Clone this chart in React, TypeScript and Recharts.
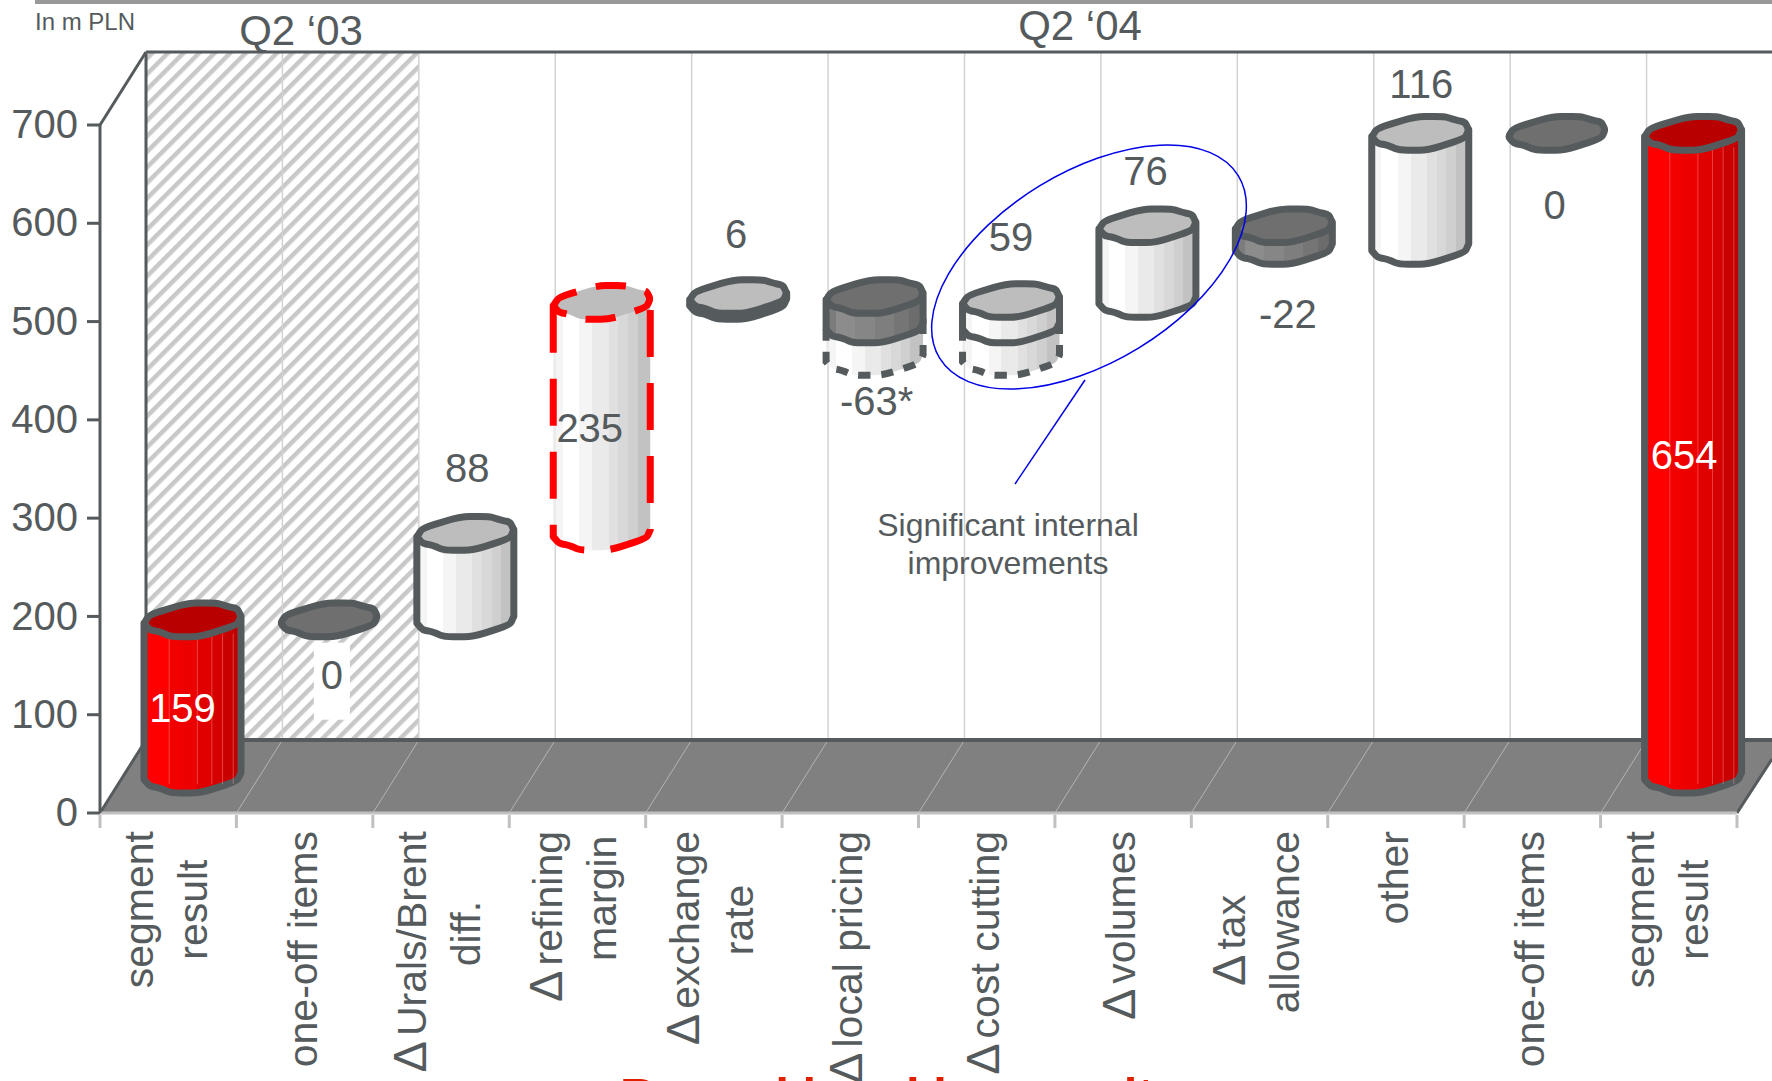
import React from 'react';
import { Bar, ComposedChart, Customized, XAxis, YAxis } from 'recharts';

// Waterfall values, in m PLN
const categories = ['segment result', 'one-off items', 'Urals/Brent diff.', 'refining margin', 'exchange rate', 'local pricing', 'cost cutting', 'volumes', 'tax allowance', 'other', 'one-off items', 'segment result'];
const tickLines = [
  ['segment', 'result'],
  ['one-off items'],
  ['Δ Urals/Brent', 'diff.'],
  ['Δ refining', 'margin'],
  ['Δ exchange', 'rate'],
  ['Δ local pricing'],
  ['Δ cost cutting'],
  ['Δ volumes'],
  ['Δ tax', 'allowance'],
  ['other'],
  ['one-off items'],
  ['segment', 'result'],
];
const deltas = [159, 0, 88, 235, 6, -63, 59, 76, -22, 116, 0, 654];
const valueLabels = ['159', '0', '88', '235', '6', '-63*', '59', '76', '-22', '116', '0', '654'];
// lower part of these two steps is only outlined with a dashed line
const dashedParts = [0, 0, 0, 0, 0, 33, 33, 0, 0, 0, 0, 0];
const yTicks = [0, 100, 200, 300, 400, 500, 600, 700];

const totalIndexes = [0, 11];
const highlightedIndex = 3;

// running total of the waterfall -> lower edge of each step
let running = 0;
const data = categories.map((name, i) => {
  const isTotal = totalIndexes.includes(i);
  const start = isTotal ? 0 : running;
  const end = isTotal ? deltas[i] : running + deltas[i];
  running = end;
  const low = Math.min(start, end);
  return {
    name,
    base: low,
    dashed: dashedParts[i],
    solid: Math.abs(deltas[i]) - dashedParts[i],
  };
});

const WIDTH = 1772;
const HEIGHT = 1081;
const LEFT = 100;
const RIGHT = 1737;
const TOP = 125;
const BOTTOM = 813;
const STEP = (RIGHT - LEFT) / categories.length;
// the wall sits behind the front axis, columns stand half way in
const WALL_DX = 46;
const WALL_DY = 73;
const COLUMN_DX = 24;
const COLUMN_DY = 37;
const HALF_W = 48.5;
const HALF_H = 17;
const OUTLINE = 7;

const DARK = '#555b5d';
const FONT = '"Liberation Sans", Arial, sans-serif';

// outline of the column cap, normalised
const ring: [number, number][] = [
  [-1, 0.2], [-0.88, -0.3], [-0.1, -0.98], [0.5, -0.98], [0.75, -0.76], [0.92, -0.66],
  [1, -0.2], [0.92, 0.3], [0.17, 1], [-0.44, 1], [-0.68, 0.7], [-0.88, 0.6],
];

const place = (p: [number, number], cx: number, cy: number): [number, number] =>
  [cx + p[0] * HALF_W, cy + p[1] * HALF_H];

// softened corner between its two neighbours
const corner = (a: number[], v: number[], b: number[], t = 0.32) => {
  const p1 = [v[0] + (a[0] - v[0]) * t, v[1] + (a[1] - v[1]) * t];
  const p2 = [v[0] + (b[0] - v[0]) * t, v[1] + (b[1] - v[1]) * t];
  return `L${p1[0]} ${p1[1]} Q${v[0]} ${v[1]} ${p2[0]} ${p2[1]}`;
};

const capPath = (cx: number, cy: number) => {
  const pts = ring.map(p => place(p, cx, cy));
  const n = pts.length;
  const segs = pts.map((v, i) => corner(pts[(i - 1 + n) % n], v, pts[(i + 1) % n]));
  return 'M' + segs.join(' ').slice(1) + ' Z';
};

const bodyPath = (cx: number, top: number, h: number) => {
  const lower = [ring[0], ring[11], ring[10], ring[9], ring[8], ring[7], ring[6]].map(p => place(p, cx, top + h));
  const start = place(ring[0], cx, top);
  const end = place(ring[6], cx, top);
  const inner = lower.slice(1, -1).map((v, i) => corner(lower[i], v, lower[i + 2])).join(' ');
  return `M${start[0]} ${start[1]} L${lower[0][0]} ${lower[0][1]} ${inner} L${lower[6][0]} ${lower[6][1]} L${end[0]} ${end[1]} Z`;
};

const bandStops = (id: string, stops: [number, string][]) => (
  <linearGradient id={id} x1="0" y1="0" x2="1" y2="0">
    {stops.flatMap(([end, color], i) => [
      <stop key={`${i}a`} offset={i === 0 ? 0 : stops[i - 1][0]} stopColor={color} />,
      <stop key={`${i}b`} offset={end} stopColor={color} />,
    ])}
  </linearGradient>
);

// offset of each value label from the top centre of its column
const labelOffsets: [number, number][] = [
  [-10, 88], [3, 55], [2, -65], [-12, 126], [-2, -62], [2, 105],
  [0, -63], [-2, -55], [4, 88], [1, -49], [-2, 72], [-9, 322],
];

// callout round the cost cutting and volumes steps
const Callout = () => (
  <g>
    <ellipse cx={1089} cy={267} rx={175} ry={95} transform="rotate(-31.4 1089 267)" fill="none" stroke="#0000e6" strokeWidth={1.5} />
    <line x1={1085} y1={380} x2={1015} y2={484} stroke="#0000e6" strokeWidth={1.5} />
    <text x={1008} y={536} textAnchor="middle" fontFamily={FONT} fontSize={32} fill={DARK}>Significant internal</text>
    <text x={1008} y={574} textAnchor="middle" fontFamily={FONT} fontSize={32} fill={DARK}>improvements</text>
  </g>
);

const DashedPart = (props: any) => {
  const { x, y, width, height } = props;
  if (!height) return null;
  const cx = x + width / 2 + COLUMN_DX;
  return (
    <path
      d={bodyPath(cx, y - COLUMN_DY, height)}
      fill="url(#bodyWhite)"
      stroke={DARK}
      strokeWidth={OUTLINE}
      strokeDasharray="12 11"
      strokeDashoffset={height + 60}
    />
  );
};

const Column = (props: any) => {
  const { x, y, width, height, index } = props;
  const cx = x + width / 2 + COLUMN_DX;
  const top = y - COLUMN_DY;
  const delta = deltas[index];
  const isTotal = totalIndexes.includes(index);
  const isHighlighted = index === highlightedIndex;
  const isDown = delta <= 0;
  const stroke = isHighlighted ? '#ff0000' : DARK;
  const dash = isHighlighted ? '47 26' : undefined;
  const bodyFill = isTotal ? 'url(#bodyRed)' : isDown ? 'url(#bodyDark)' : 'url(#bodyWhite)';
  const capFill = isTotal ? '#b90000' : isDown ? '#6f6f6f' : '#bdbdbd';
  const [dx, dy] = labelOffsets[index];
  return (
    <g>
      {height > 0 && (
        <path d={bodyPath(cx, top, height)} fill={bodyFill} stroke={stroke} strokeWidth={OUTLINE} strokeDasharray={dash} strokeLinejoin="round" />
      )}
      {isTotal && [0.26, 0.55, 0.7, 0.81, 0.92].map(f => (
        <line
          key={f}
          x1={cx - HALF_W + 2 * HALF_W * f}
          x2={cx - HALF_W + 2 * HALF_W * f}
          y1={top + 14}
          y2={top + height + 8}
          stroke="#ff9a9a"
          strokeOpacity={0.6}
          strokeWidth={0.7}
        />
      ))}
      <path d={capPath(cx, top)} fill={capFill} stroke={stroke} strokeWidth={OUTLINE} strokeDasharray={isHighlighted ? '30 20' : undefined} strokeLinejoin="round" />
      {index === 1 && <rect x={cx + dx - 18} y={top + dy - 32} width={36} height={77} fill="#fff" />}
      <text
        x={cx + dx}
        y={top + dy + 14}
        textAnchor="middle"
        fontFamily={FONT}
        fontSize={40}
        fill={isTotal ? '#fff' : DARK}
      >
        {valueLabels[index]}
      </text>
      {/* last column is painted last, so the callout stays above all of them */}
      {index === categories.length - 1 && <Callout />}
    </g>
  );
};

const measureCtx = document.createElement('canvas').getContext('2d');
const textWidth = (s: string) => {
  if (!measureCtx) return s.length * 20;
  measureCtx.font = `41px ${FONT}`;
  return measureCtx.measureText(s).width;
};
const stripDelta = (s: string) => s.replace('Δ ', '');

const CategoryTick = (props: any) => {
  const { x, index } = props;
  const lines = tickLines[index];
  if (!lines) return null;
  const centre = 831 + Math.max(...lines.map(l => textWidth(stripDelta(l)))) / 2;
  return (
    <g>
      <line x1={x - STEP / 2} x2={x - STEP / 2} y1={BOTTOM + 2} y2={BOTTOM + 15} stroke="#c0c0c0" strokeWidth={3} />
      {index === categories.length - 1 && (
        <line x1={x + STEP / 2} x2={x + STEP / 2} y1={BOTTOM + 2} y2={BOTTOM + 15} stroke="#c0c0c0" strokeWidth={3} />
      )}
      {lines.map((line, i) => {
        const lx = x + (i - (lines.length - 1) / 2) * 54 + 12;
        const ly = centre - textWidth(stripDelta(line)) / 2;
        const hasDelta = line !== stripDelta(line);
        return (
          <text
            key={line}
            x={lx}
            y={ly}
            transform={`rotate(-90 ${lx} ${ly})`}
            textAnchor="end"
            fontFamily={FONT}
            fontSize={41}
            fill={DARK}
          >
            {hasDelta && <tspan fontSize={47}>Δ</tspan>}
            <tspan dx={hasDelta ? 5 : 0}>{stripDelta(line)}</tspan>
          </text>
        );
      })}
    </g>
  );
};

// back wall, floor and hatched Q2 '03 zone
const ChartBox = () => {
  const edges = categories.map((_, i) => LEFT + STEP * i);
  const wallX = edges.map(e => e + WALL_DX);
  const wallTop = TOP - WALL_DY;
  const wallBottom = BOTTOM - WALL_DY;
  return (
    <g>
      <rect x={LEFT + WALL_DX} y={wallTop} width={STEP * 2} height={wallBottom - wallTop} fill="url(#hatch)" />
      {wallX.slice(1).map(x => (
        <line key={x} x1={x} x2={x} y1={wallTop} y2={wallBottom} stroke="#d2d2d2" strokeWidth={1.5} />
      ))}
      <polygon
        points={`${LEFT},${BOTTOM} ${LEFT + WALL_DX},${wallBottom} ${WIDTH},${wallBottom} ${WIDTH},${BOTTOM - 54} ${RIGHT},${BOTTOM}`}
        fill="#808080"
      />
      {[...edges.slice(1), RIGHT].slice(0, 11).map(x => (
        <line key={x} x1={x} x2={x + WALL_DX} y1={BOTTOM} y2={wallBottom} stroke="#b4b4b4" strokeWidth={1} />
      ))}
      <line x1={LEFT + WALL_DX} x2={WIDTH} y1={wallBottom} y2={wallBottom} stroke={DARK} strokeWidth={4} />
      <line x1={LEFT} x2={LEFT + WALL_DX} y1={BOTTOM} y2={wallBottom} stroke={DARK} strokeWidth={3} />
      <line x1={RIGHT} x2={WIDTH} y1={BOTTOM} y2={BOTTOM - 54} stroke={DARK} strokeWidth={3} />
      <line x1={LEFT + WALL_DX} x2={LEFT + WALL_DX} y1={wallTop} y2={wallBottom} stroke={DARK} strokeWidth={3} />
      <line x1={LEFT} x2={LEFT + WALL_DX} y1={TOP} y2={wallTop} stroke={DARK} strokeWidth={3} />
      <line x1={LEFT + WALL_DX} x2={WIDTH} y1={wallTop} y2={wallTop} stroke={DARK} strokeWidth={3} />

      <rect x={35} y={0} width={WIDTH - 35} height={4} fill="#999" />
      <text x={35} y={30} fontFamily={FONT} fontSize={24} fill={DARK}>In m PLN</text>
      <text x={301} y={45} textAnchor="middle" fontFamily={FONT} fontSize={42} fill={DARK}>Q2 ‘03</text>
      <text x={1080} y={40} textAnchor="middle" fontFamily={FONT} fontSize={42} fill={DARK}>Q2 ‘04</text>
      <text x={620} y={1112} fontFamily={FONT} fontSize={49} fontWeight="bold" fill="#e02000">Record breaking result</text>
    </g>
  );
};

export default function App() {
  return (
    <div style={{ position: 'absolute', left: 0, top: 0, width: WIDTH, height: HEIGHT, overflow: 'hidden', background: '#fff' }}>
      <ComposedChart
        width={WIDTH}
        height={HEIGHT}
        data={data}
        barSize={HALF_W * 2}
        margin={{ top: TOP, right: WIDTH - RIGHT, bottom: 0, left: 0 }}
      >
        <defs>
          <pattern id="hatch" width={11} height={11} patternUnits="userSpaceOnUse" patternTransform="rotate(45)">
            <rect width={11} height={11} fill="#fff" />
            <rect width={4.5} height={11} fill="#c8c8c8" />
          </pattern>
          {bandStops('bodyWhite', [[0.03, '#ebebeb'], [0.1, '#f5f5f5'], [0.27, '#ffffff'], [0.4, '#f5f5f5'], [0.57, '#eaeaea'], [0.67, '#e0e0e0'], [0.77, '#d8d8d8'], [0.87, '#cfcfcf'], [1, '#c2c2c2']])}
          {bandStops('bodyRed', [[0.26, '#ff0000'], [0.39, '#f20000'], [0.55, '#ec0000'], [0.7, '#e00000'], [0.81, '#d50000'], [0.92, '#c90000'], [1, '#bf0000']])}
          {bandStops('bodyDark', [[0.1, '#7c7c7c'], [0.3, '#8c8c8c'], [0.5, '#868686'], [0.7, '#7e7e7e'], [0.85, '#757575'], [1, '#6c6c6c']])}
        </defs>
        <Customized component={ChartBox} />
        <XAxis
          dataKey="name"
          interval={0}
          height={HEIGHT - BOTTOM}
          tickLine={false}
          axisLine={{ stroke: '#c0c0c0', strokeWidth: 3 }}
          tick={CategoryTick}
        />
        <YAxis
          domain={[0, 700]}
          ticks={yTicks}
          width={LEFT}
          tickSize={13}
          tickMargin={9}
          axisLine={{ stroke: DARK, strokeWidth: 3 }}
          tickLine={{ stroke: DARK, strokeWidth: 3 }}
          tick={{ fontFamily: FONT, fontSize: 40, fill: DARK, dy: -1 }}
        />
        <Bar dataKey="base" stackId="steps" fill="none" isAnimationActive={false} />
        <Bar dataKey="dashed" stackId="steps" shape={DashedPart} isAnimationActive={false} />
        <Bar dataKey="solid" stackId="steps" shape={Column} isAnimationActive={false} />
      </ComposedChart>
    </div>
  );
}
